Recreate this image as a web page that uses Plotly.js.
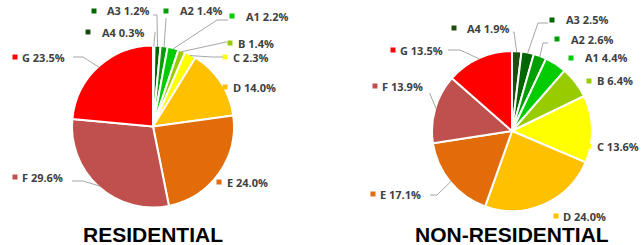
<!DOCTYPE html>
<html><head><meta charset="utf-8">
<script src="https://cdn.plot.ly/plotly-3.0.1.min.js"></script>
<style>html,body{margin:0;padding:0;background:#fff;}#chart{width:642px;height:245px;}</style>
</head><body><div id="chart"></div>
<script>
// ---- data ----
const categories = ['A4','A3','A2','A1','B','C','D','E','F','G'];
const residentialValues = [0.3,1.2,1.4,2.2,1.4,2.3,14.0,24.0,29.6,23.5];
const nonResidentialValues = [1.9,2.5,2.6,4.4,6.4,13.6,24.0,17.1,13.9,13.5];
const chartTitles = ['RESIDENTIAL','NON-RESIDENTIAL'];

// ---- styles / layout ----
const colors = ['#1E4D0E','#006600','#009F00','#00CC00','#99CC00','#FFFF00','#FFC000','#E26B0A','#C0504D','#FF0000'];
const W = 642, H = 245;
const pies = [
  {cx:153, cy:126.5, r:81, titleX:153},
  {cx:512, cy:131, r:80, titleX:512}
];
// label placement: square centre, text left, leader line anchor + elbow (pixels)
const labelLayouts = [
  [
    {sq:[88,32], tx:101, line:[[155,32],[155,33]]},
    {sq:[94,11], tx:106, line:[[153,15],[157,15]]},
    {sq:[166,11], tx:179, line:[[166,18],[166,19]]},
    {sq:[232,16], tx:245, line:[[228,20],[217,20]]},
    {sq:[230,43], tx:237, line:[[227,42],[226,42]]},
    {sq:[225,57], tx:232, line:[[223,57],[212,57]]},
    {sq:[225,87], tx:232, line:null},
    {sq:[219,182], tx:226, line:null},
    {sq:[15,177], tx:21, line:[[72,181],[83,181]]},
    {sq:[15,57], tx:21, line:[[73,57],[83,57]]}
  ],
  [
    {sq:[454,28], tx:466, line:[[513,32],[514,32]]},
    {sq:[552,20], tx:565, line:[[548,23],[538,23]]},
    {sq:[557,39], tx:570, line:[[548,43],[543,43]]},
    {sq:[571,58], tx:584, line:null},
    {sq:[589,81], tx:596, line:null},
    {sq:[589,146], tx:596, line:null},
    {sq:[556,216], tx:562, line:null},
    {sq:[373,194], tx:379, line:[[430,195],[437,195]]},
    {sq:[375,86], tx:381, line:[[430,93],[430,94]]},
    {sq:[393,50], tx:399, line:[[448,50],[460,50]]}
  ]
];

const px = v => v / W;
const py = v => 1 - v / H;

const datasets = [residentialValues, nonResidentialValues];
const traces = [];
const shapes = [];
const annotations = [];

datasets.forEach((vals, i) => {
  const p = pies[i];
  traces.push({
    type:'pie', values: vals, labels: categories, sort:false, direction:'clockwise', rotation:0,
    textinfo:'none', hoverinfo:'label+percent',
    marker:{colors: colors, line:{color:'#ffffff', width:2}},
    domain:{x:[px(p.cx - p.r), px(p.cx + p.r)], y:[py(p.cy + p.r), py(p.cy - p.r)]}
  });
  const total = vals.reduce((a,b)=>a+b,0);
  let cum = 0;
  vals.forEach((v, k) => {
    const mid = (cum + v/2) / total * 2 * Math.PI;
    cum += v;
    const rimX = p.cx + (p.r - 1) * Math.sin(mid);
    const rimY = p.cy - (p.r - 1) * Math.cos(mid);
    const L = labelLayouts[i][k];
    shapes.push({type:'rect', xref:'paper', yref:'paper',
      x0:px(L.sq[0]-2.5), x1:px(L.sq[0]+2.5), y0:py(L.sq[1]+2.5), y1:py(L.sq[1]-2.5),
      fillcolor: colors[k], line:{width:0}});
    annotations.push({xref:'paper', yref:'paper', x:px(L.tx), y:py(L.sq[1]), xanchor:'left', yanchor:'middle',
      showarrow:false, borderpad:0, text:'<b>' + categories[k] + ' ' + v.toFixed(1) + '%</b>',
      font:{family:'Open Sans, sans-serif', size:11, color:'#404040'}});
    if (L.line) {
      const path = 'M' + px(L.line[0][0]) + ',' + py(L.line[0][1]) +
                   ' L' + px(L.line[1][0]) + ',' + py(L.line[1][1]) +
                   ' L' + px(rimX) + ',' + py(rimY);
      shapes.push({type:'path', xref:'paper', yref:'paper', path:path, line:{color:'#A6A6A6', width:1}});
    }
  });
  annotations.push({xref:'paper', yref:'paper', x:px(p.titleX), y:py(234), xanchor:'center', yanchor:'middle',
    showarrow:false, borderpad:0, text:'<b>' + chartTitles[i] + '</b>',
    font:{family:'Liberation Sans, Arial, sans-serif', size:21, color:'#000000'}});
});

Plotly.newPlot('chart', traces, {
  width:W, height:H, margin:{l:0,r:0,t:0,b:0}, showlegend:false,
  paper_bgcolor:'#ffffff', plot_bgcolor:'#ffffff',
  shapes: shapes, annotations: annotations
}, {displayModeBar:false, staticPlot:true});
</script></body></html>
